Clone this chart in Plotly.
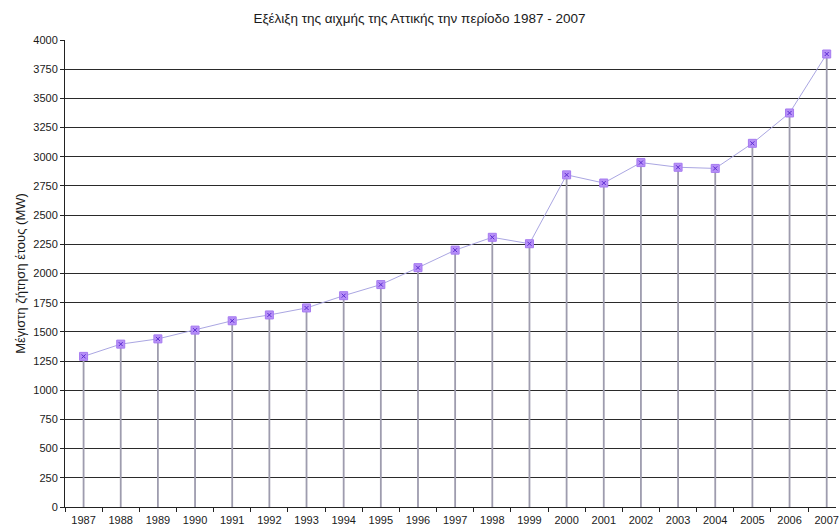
import plotly.graph_objects as go

# Peak annual electricity demand of Attica, 1987-2007 (MW)
years = [str(y) for y in range(1987, 2008)]
peak_mw = [1290, 1395, 1440, 1515, 1595, 1645, 1705, 1810, 1905, 2050,
           2200, 2310, 2255, 2845, 2775, 2950, 2910, 2900, 3115, 3375, 3880]
y_ticks = list(range(0, 4001, 250))

title_text = "Εξέλιξη της αιχμής της Αττικής την περίοδο 1987 - 2007"
y_title = "Μέγιστη ζήτηση έτους (MW)"

font_family = "Liberation Sans, Arial, sans-serif"
text_color = "#1a1a1a"

# vertical drop lines from the axis up to each yearly value
drop_x, drop_y = [], []
for yr, v in zip(years, peak_mw):
    drop_x += [yr, yr, None]
    drop_y += [0, v, None]

fig = go.Figure()

fig.add_trace(go.Scatter(
    x=drop_x, y=drop_y, mode="lines",
    line=dict(color="#9e9cae", width=1.8),
    hoverinfo="skip", showlegend=False,
))

fig.add_trace(go.Scatter(
    x=years, y=peak_mw, mode="lines+markers",
    line=dict(color="#aaa6e2", width=1),
    marker=dict(symbol="square", size=8, color="#b790f7",
                line=dict(color="#a57af0", width=1)),
    showlegend=False,
))

# small cross inside each square marker
fig.add_trace(go.Scatter(
    x=years, y=peak_mw, mode="markers",
    marker=dict(symbol="x-thin", size=4, color="#5a2ad0",
                line=dict(color="#5a2ad0", width=1)),
    hoverinfo="skip", showlegend=False,
))

fig.update_layout(
    width=839, height=530,
    margin=dict(l=65, r=0, t=40, b=23),
    paper_bgcolor="white", plot_bgcolor="white",
    font=dict(family=font_family, size=11, color=text_color),
    title=dict(text=title_text, x=0.5, xanchor="center",
               y=1 - 18 / 530, yanchor="middle",
               font=dict(size=13.5, color=text_color)),
    xaxis=dict(
        type="category", categoryorder="array", categoryarray=years,
        range=[-0.5, 20.25],
        showgrid=False, zeroline=False,
        showline=True, linecolor="#222", linewidth=1,
        ticks="outside", tickson="boundaries", ticklen=4,
        tickcolor="#222", tickfont=dict(size=11),
        ticklabelstandoff=3,
    ),
    yaxis=dict(
        range=[0, 4000], tickvals=y_ticks,
        showgrid=True, gridcolor="#2a2a2a", gridwidth=1,
        zeroline=False,
        showline=True, linecolor="#222", linewidth=1,
        ticks="outside", ticklen=4, tickcolor="#222",
        tickfont=dict(size=11),
        title=dict(text=y_title, standoff=4, font=dict(size=13)),
    ),
)

fig.write_html("out.html")
